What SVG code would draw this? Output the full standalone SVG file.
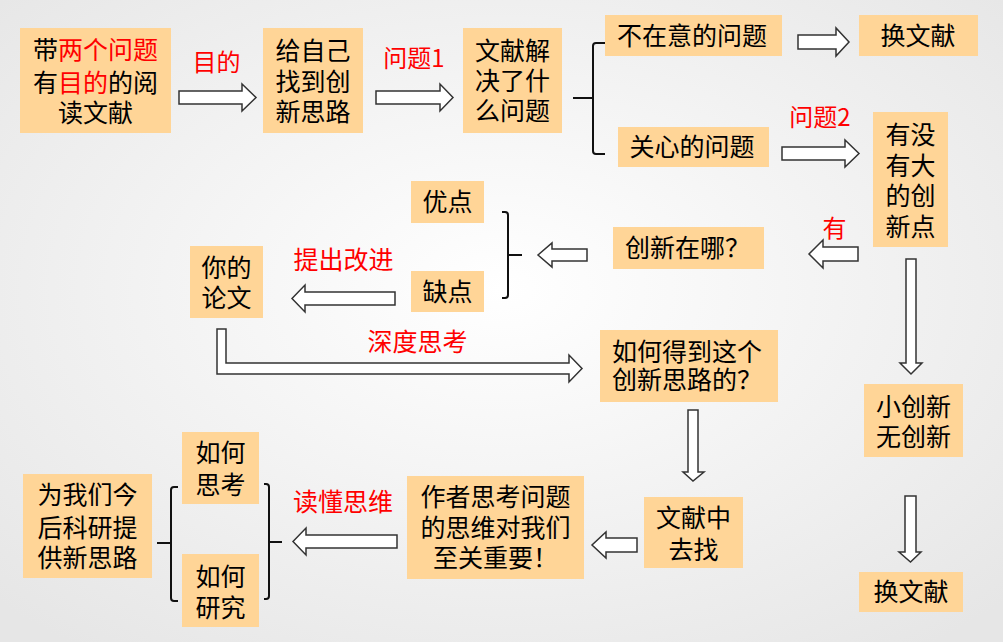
<svg xmlns="http://www.w3.org/2000/svg" width="1003" height="642" viewBox="0 0 1003 642">
<defs>
<radialGradient id="bg" cx="50%" cy="45%" r="70%">
<stop offset="0" stop-color="#ffffff"/>
<stop offset="1" stop-color="#e6e6e6"/>
</radialGradient>
<style>
.box{fill:#FFD597;}
.t{font-family:"Noto Sans CJK SC","Noto Sans",sans-serif;font-size:25px;fill:#000;text-anchor:middle;}
.r{fill:#FF0000;}
.lbl{font-family:"Noto Sans CJK SC","Noto Sans",sans-serif;font-size:24px;fill:#FF0000;text-anchor:middle;}
.arr{fill:#fff;stroke:#333;stroke-width:1.5;stroke-linejoin:miter;}
.br{fill:none;stroke:#111;stroke-width:2;}
</style>
</defs>
<rect width="1003" height="642" fill="url(#bg)"/>

<g id="n1"><rect class="box" x="20" y="28" width="151" height="105"/>
<text class="t" x="95.5" y="59">带<tspan class="r">两个问题</tspan></text>
<text class="t" x="95.5" y="92">有<tspan class="r">目的</tspan>的阅</text>
<text class="t" x="95.5" y="122">读文献</text></g>

<g id="n2"><rect class="box" x="263" y="28" width="100" height="105"/>
<text class="t" x="313" y="60">给自己</text>
<text class="t" x="313" y="91">找到创</text>
<text class="t" x="313" y="121">新思路</text></g>

<g id="n3"><rect class="box" x="463" y="28" width="99" height="105"/>
<text class="t" x="512.5" y="60">文献解</text>
<text class="t" x="512.5" y="90">决了什</text>
<text class="t" x="512.5" y="120">么问题</text></g>

<g id="n4"><rect class="box" x="605" y="15" width="177" height="41"/>
<text class="t" x="692" y="45">不在意的问题</text></g>

<g id="n5"><rect class="box" x="618" y="127" width="151" height="40"/>
<text class="t" x="692" y="156">关心的问题</text></g>

<g id="n6"><rect class="box" x="859" y="15" width="119" height="41"/>
<text class="t" x="918" y="45">换文献</text></g>

<g id="n7"><rect class="box" x="873" y="112" width="75" height="135"/>
<text class="t" x="910.5" y="144">有没</text>
<text class="t" x="910.5" y="174.5">有大</text>
<text class="t" x="910.5" y="205">的创</text>
<text class="t" x="910.5" y="235.5">新点</text></g>

<g id="n8"><rect class="box" x="613" y="227" width="151" height="42"/>
<text class="t" x="625" y="257" style="text-anchor:start">创新在哪？</text></g>

<g id="n9"><rect class="box" x="411" y="181" width="73" height="42"/>
<text class="t" x="447.5" y="211">优点</text></g>

<g id="n10"><rect class="box" x="411" y="271" width="73" height="41"/>
<text class="t" x="447.5" y="300.5">缺点</text></g>

<g id="n11"><rect class="box" x="190" y="246" width="73" height="72"/>
<text class="t" x="226.5" y="277">你的</text>
<text class="t" x="226.5" y="307">论文</text></g>

<g id="n12"><rect class="box" x="600" y="330" width="178" height="72"/>
<text class="t" x="612" y="361" style="text-anchor:start">如何得到这个</text>
<text class="t" x="612" y="389" style="text-anchor:start">创新思路的？</text></g>

<g id="n13"><rect class="box" x="864" y="384" width="99" height="73"/>
<text class="t" x="913.5" y="416">小创新</text>
<text class="t" x="913.5" y="446">无创新</text></g>

<g id="n14"><rect class="box" x="859" y="572" width="104" height="40"/>
<text class="t" x="911" y="601">换文献</text></g>

<g id="n15"><rect class="box" x="644" y="497" width="99" height="71"/>
<text class="t" x="693.5" y="527">文献中</text>
<text class="t" x="693.5" y="559">去找</text></g>

<g id="n16"><rect class="box" x="407" y="476" width="177" height="103"/>
<text class="t" x="495.5" y="506">作者思考问题</text>
<text class="t" x="495.5" y="537">的思维对我们</text>
<text class="t" x="495.5" y="567">至关重要！</text></g>

<g id="n17"><rect class="box" x="182" y="432" width="77" height="72"/>
<text class="t" x="220.5" y="462">如何</text>
<text class="t" x="220.5" y="494">思考</text></g>

<g id="n18"><rect class="box" x="182" y="554" width="77" height="73"/>
<text class="t" x="220.5" y="586">如何</text>
<text class="t" x="220.5" y="617">研究</text></g>

<g id="n19"><rect class="box" x="23" y="474" width="129" height="104"/>
<text class="t" x="87.5" y="504">为我们今</text>
<text class="t" x="87.5" y="537">后科研提</text>
<text class="t" x="87.5" y="567">供新思路</text></g>

<g id="connectors">
<polygon class="arr" points="179,91 242,91 242,84 256,97.5 242,111 242,104 179,104"/>
<polygon class="arr" points="376,91 440,91 440,84 453,97.5 440,111 440,104 376,104"/>
<polygon class="arr" points="798,35 836,35 836,28 849,42 836,56 836,49 798,49"/>
<polygon class="arr" points="782,147 845,147 845,140 859,153.5 845,167 845,160 782,160"/>
<polygon class="arr" points="858,247 823,247 823,240 809,254 823,268 823,261 858,261"/>
<polygon class="arr" points="587,249 552,249 552,243 538,255 552,267 552,261 587,261"/>
<polygon class="arr" points="395,292 305,292 305,285 292,298.5 305,312 305,305 395,305"/>
<polygon class="arr" points="217,329 226,329 226,363 569,363 569,355 582,368.5 569,382 569,374 217,374"/>
<polygon class="arr" points="688,410 698,410 698,472 704,472 693,481 683,472 688,472"/>
<polygon class="arr" points="637,538 606,538 606,532 592,545 606,558 606,552 637,552"/>
<polygon class="arr" points="397,535 306,535 306,528 293,541.5 306,555 306,548 397,548"/>
<polygon class="arr" points="906,259 916,259 916,363 922,363 911,374 900,363 906,363"/>
<polygon class="arr" points="905,496 916,496 916,552 921,552 910.5,562 899,552 905,552"/>
<path class="br" d="M605,43 H596 Q593,43 593,46 V151 Q593,154 596,154 H605 M573,98 H593"/>
<path class="br" d="M502,212 H505 Q508,212 508,215 V295 Q508,298 505,298 H502 M508,255 H522"/>
<path class="br" d="M264,484 H266 Q269,484 269,487 V596 Q269,599 266,599 H264 M269,542 H282"/>
<path class="br" d="M178,487 H174 Q171,487 171,490 V598 Q171,601 174,601 H178 M157,543 H171"/>
<text class="lbl" x="216.5" y="71">目的</text>
<text class="lbl" x="414" y="67">问题1</text>
<text class="lbl" x="820" y="126">问题2</text>
<text class="lbl" x="834.5" y="237">有</text>
<text class="lbl" x="343.5" y="269" style="font-size:25px">提出改进</text>
<text class="lbl" x="417.5" y="351" style="font-size:25px">深度思考</text>
<text class="lbl" x="343" y="511" style="font-size:25px">读懂思维</text>
</g>
</svg>
